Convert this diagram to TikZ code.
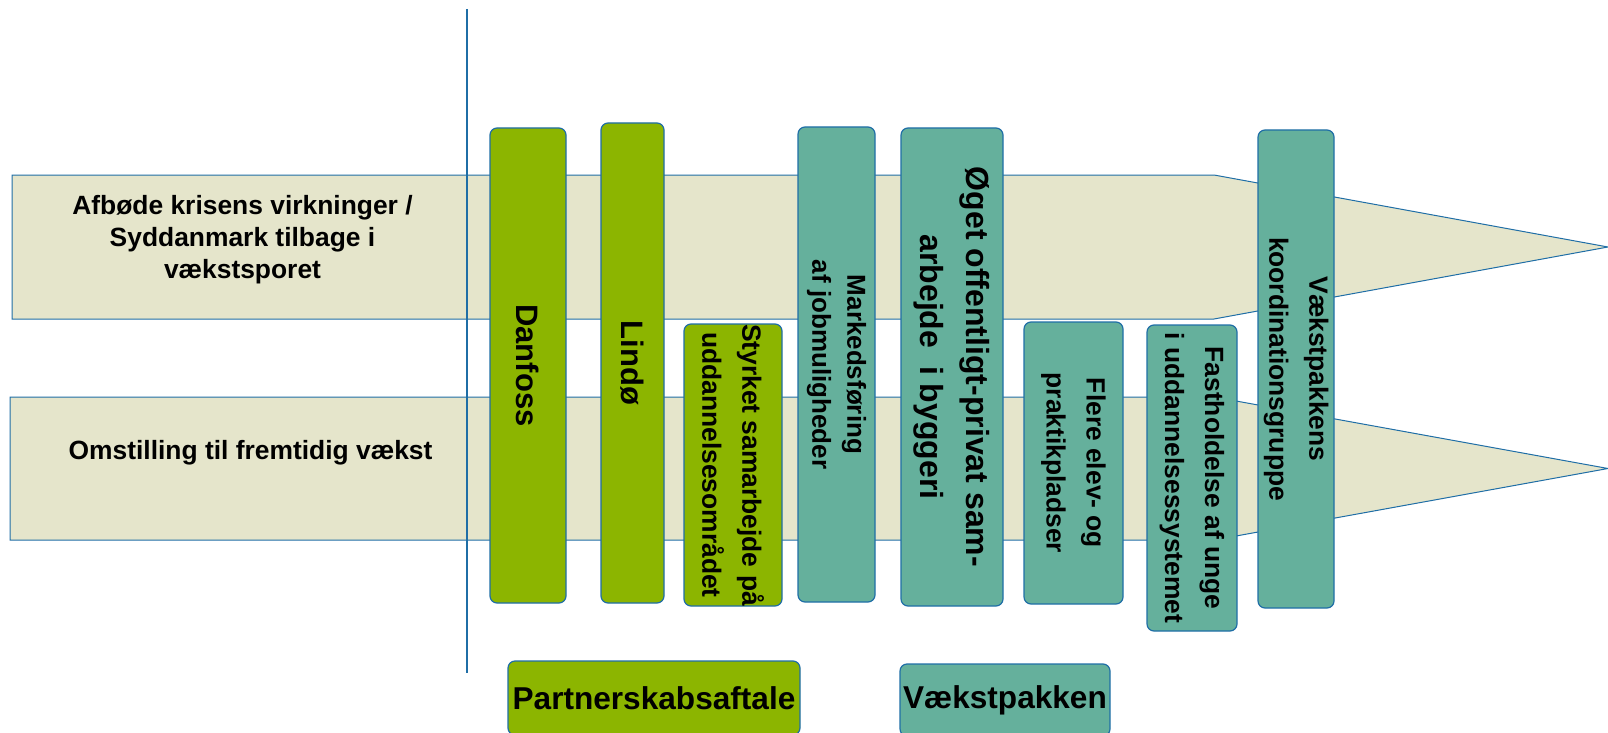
\documentclass[tikz,border=0pt]{standalone}
\usepackage{fontspec}
\setmainfont{Liberation Sans}
\usetikzlibrary{positioning}
\definecolor{barTan}{HTML}{E5E5CB}
\definecolor{barGreen}{HTML}{8CB500}
\definecolor{barTeal}{HTML}{65B09C}
\definecolor{barBlue}{HTML}{1F6EA6}

\begin{document}
\begin{tikzpicture}[x=1pt,y=-1pt,
    bar/.style={draw=barBlue, fill=barTan, line width=1pt},
    post/.style={draw=barBlue, line width=1.2pt, rounded corners=7pt, rotate=-90,
      inner sep=0pt, align=center, font=\bfseries\fontsize{26.4}{40}\selectfont},
    tag/.style={draw=barBlue, line width=1.2pt, rounded corners=7pt, inner sep=0pt,
      font=\bfseries\fontsize{31.6}{38}\selectfont}]
    \useasboundingbox (0,0) rectangle (1608,733);

    % goal arrows
    \draw[bar] (12,175) -- (1214,175) -- (1608,247) -- (1214,319) -- (12,319) -- cycle;
    \draw[bar] (10,397) -- (1214,397) -- (1608,468.5) -- (1214,540) -- (10,540) -- cycle;

    \node (afbode) [align=center, font=\bfseries\fontsize{26.4}{32}\selectfont]
      at (242.5,239.5) {Afbøde krisens virkninger /\\Syddanmark tilbage i\\vækstsporet};
    \node (omstil) [font=\bfseries\fontsize{26.4}{32}\selectfont]
      at (250.5,453) {Omstilling til fremtidig vækst};

    \draw[barBlue, line width=2.2pt] (467,9) -- (467,673);

    % partnerskab
    \node (danfoss) [post, fill=barGreen, minimum width=475pt, minimum height=76pt,
      font=\bfseries\fontsize{31}{37}\selectfont] at (528,365.5) {Danfoss};
    \node (lindo) [post, fill=barGreen, minimum width=480pt, minimum height=63pt,
      font=\bfseries\fontsize{31}{37}\selectfont] at (632.5,363) {Lindø};
    \node (styrket) [post, fill=barGreen, minimum width=282pt, minimum height=98pt]
      at (733,465) {Styrket samarbejde på\\uddannelsesområdet};

    % vaekstpakke
    \node (marked) [post, fill=barTeal, minimum width=475pt, minimum height=77pt,
      font=\bfseries\fontsize{26}{35}\selectfont] at (836.5,364.5) {Markedsføring\\af jobmuligheder};
    \node (oget) [post, fill=barTeal, minimum width=478pt, minimum height=102pt,
      font=\bfseries\fontsize{32}{46}\selectfont] at (952,367) {Øget offentligt-privat sam-\\arbejde~ i byggeri};
    \node (flere) [post, fill=barTeal, minimum width=282pt, minimum height=99pt]
      at (1073.5,463) {Flere elev- og\\praktikpladser};
    \node (fast) [post, fill=barTeal, minimum width=306pt, minimum height=90pt]
      at (1192,478) {Fastholdelse af unge\\i uddannelsessystemet};
    \node (koord) [post, fill=barTeal, minimum width=478pt, minimum height=76pt]
      at (1296,369) {Vækstpakkens\\koordinationsgruppe};

    \node (partner) [tag, fill=barGreen, minimum width=292pt, minimum height=74pt]
      at (654,698) {Partnerskabsaftale};
    \node (vaekst) [tag, fill=barTeal, minimum width=210pt, minimum height=72pt]
      at (1005,700) {Vækstpakken};
\end{tikzpicture}
\end{document}
